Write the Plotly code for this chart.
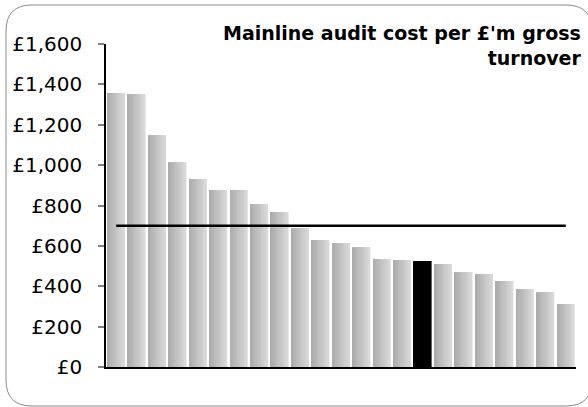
import plotly.graph_objects as go

# ---- data ----
categories = [f"Body {i}" for i in range(1, 24)]
values = [1357, 1352, 1149, 1015, 931, 877, 877, 807, 768, 688, 629, 614,
          594, 535, 530, 525, 510, 470, 461, 426, 386, 371, 312]
highlight_index = 15
benchmark = 700
y_ticks = [0, 200, 400, 600, 800, 1000, 1200, 1400, 1600]
y_tick_labels = ["£0", "£200", "£400", "£600", "£800", "£1,000", "£1,200", "£1,400", "£1,600"]
title_text = "Mainline audit cost per £'m gross<br>turnover"

W, H = 588, 407
ML, MR, MT, MB = 106, 12, 44, 40

fig = go.Figure()

# gradient bars built from overlaid slices
N = 10
BW = 0.86
c0, c1 = 0xAC, 0xD8
for i in range(N):
    g = int(round(c0 + (c1 - c0) * i / (N - 1)))
    col = f"rgb({g},{g},{g})"
    colors = ["#000000" if k == highlight_index else col for k in range(len(values))]
    fig.add_trace(go.Bar(
        x=categories, y=values,
        offset=-BW / 2 + i * BW / N,
        width=BW / N + 0.004,
        marker=dict(color=colors, line=dict(width=0)),
        showlegend=False, hoverinfo="skip" if i else "x+y",
    ))

fig.add_trace(go.Scatter(
    x=categories, y=[benchmark] * len(categories),
    mode="lines", line=dict(color="#000000", width=2.5),
    showlegend=False,
))

# rounded chart border in paper coords
def px(xp):
    return (xp - ML) / (W - ML - MR)

def py(yp):
    return (H - MB - yp) / (H - MT - MB)

x0, x1, y0, y1, r = 6, 592, 5, 406, 26
path = (f"M {px(x0 + r)},{py(y0)} L {px(x1 - r)},{py(y0)} "
        f"Q {px(x1)},{py(y0)} {px(x1)},{py(y0 + r)} "
        f"L {px(x1)},{py(y1 - r)} Q {px(x1)},{py(y1)} {px(x1 - r)},{py(y1)} "
        f"L {px(x0 + r)},{py(y1)} Q {px(x0)},{py(y1)} {px(x0)},{py(y1 - r)} "
        f"L {px(x0)},{py(y0 + r)} Q {px(x0)},{py(y0)} {px(x0 + r)},{py(y0)} Z")
fig.add_shape(type="path", path=path, xref="paper", yref="paper",
              line=dict(color="#8a8a8a", width=1), fillcolor="rgba(0,0,0,0)",
              layer="below")

fig.add_annotation(
    text=title_text, xref="paper", yref="paper",
    x=px(584), y=py(20), xanchor="right", yanchor="top", align="right",
    showarrow=False,
    font=dict(family="DejaVu Sans", size=19, color="#000000", weight="bold"),
)

fig.update_layout(
    width=W, height=H,
    margin=dict(l=ML, r=MR, t=MT, b=MB),
    paper_bgcolor="white", plot_bgcolor="white",
    barmode="overlay",
    font=dict(family="DejaVu Sans", color="#000000"),
    xaxis=dict(type="category", showticklabels=False, ticks="",
               showgrid=False, showline=True, linecolor="#000000", linewidth=1.5,
               zeroline=False),
    yaxis=dict(range=[0, 1600], tickvals=y_ticks, ticktext=y_tick_labels,
               showgrid=False, zeroline=False, showline=True,
               linecolor="#000000", linewidth=1.5,
               ticks="outside", ticklen=6, tickcolor="#808080", tickwidth=1.5,
               tickfont=dict(size=20, family="DejaVu Sans", color="#000000"),
               ticklabelstandoff=12),
)

fig.write_html("out.html", post_script="document.body.style.margin='0';",
               config={"displayModeBar": False})
